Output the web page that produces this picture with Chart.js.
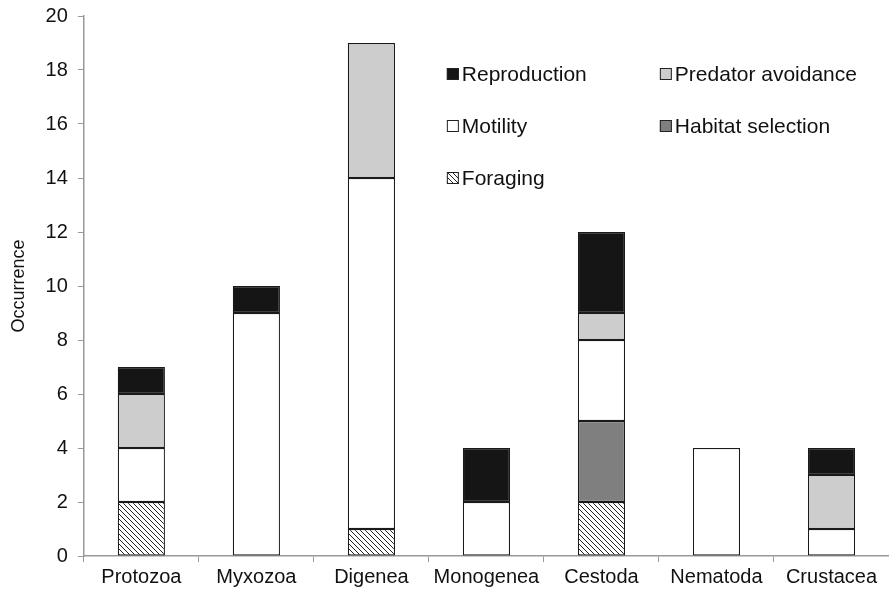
<!DOCTYPE html>
<html>
<head>
<meta charset="utf-8">
<script src="https://cdn.jsdelivr.net/npm/chart.js@4/dist/chart.umd.min.js"></script>
<style>
  html, body { margin: 0; padding: 0; background: #fff; }
  #wrap { width: 889px; height: 593px; }
</style>
</head>
<body>
<div id="wrap"><canvas id="chart" width="889" height="593"></canvas></div>
<script>
// categories and series (stack order bottom -> top)
const groups = ["Protozoa", "Myxozoa", "Digenea", "Monogenea", "Cestoda", "Nematoda", "Crustacea"];
const foraging   = [2, 0, 1, 0, 2, 0, 0];
const habitat    = [0, 0, 0, 0, 3, 0, 0];
const motility   = [2, 9, 13, 2, 3, 4, 1];
const predator   = [2, 0, 5, 0, 1, 0, 2];
const reproduction = [1, 1, 0, 2, 3, 0, 1];
const yTicks = [0, 2, 4, 6, 8, 10, 12, 14, 16, 18, 20];

const FONT = "'Liberation Sans', Arial, Helvetica, sans-serif";

// diagonal hatch for foraging
function hatch() {
    const s = 5;
    const c = document.createElement("canvas");
    c.width = s; c.height = s;
    const g = c.getContext("2d");
    g.fillStyle = "#fff";
    g.fillRect(0, 0, s, s);
    g.strokeStyle = "#222";
    g.lineWidth = 1;
    g.beginPath();
    g.moveTo(-1, -1); g.lineTo(s + 1, s + 1);
    g.moveTo(-1, s - 1); g.lineTo(1, s + 1);
    g.moveTo(s - 1, -1); g.lineTo(s + 1, 1);
    g.stroke();
    return g.createPattern(c, "repeat");
}
const hatchFill = hatch();

function ds(label, data, fill) {
    return {
        label: label,
        data: data,
        backgroundColor: fill,
        borderColor: "#1a1a1a",
        borderWidth: 1.2,
        borderSkipped: false,
        barPercentage: 0.41,
        categoryPercentage: 1
    };
}

// legend drawn inside the plot, two columns
const legendLayout = [
    { label: "Reproduction", col: 0, row: 0 },
    { label: "Predator avoidance", col: 1, row: 0 },
    { label: "Motility", col: 0, row: 1 },
    { label: "Habitat selection", col: 1, row: 1 },
    { label: "Foraging", col: 0, row: 2 }
];

const insideLegend = {
    id: "insideLegend",
    afterDraw(chart) {
        const ctx = chart.ctx;
        const area = chart.chartArea;
        ctx.save();
        ctx.font = "21px " + FONT;
        ctx.textBaseline = "middle";
        legendLayout.forEach(item => {
            const d = chart.data.datasets.find(x => x.label === item.label);
            const x = area.left + 363 + item.col * 213;
            const y = area.top + 58 + item.row * 52;
            ctx.fillStyle = d.backgroundColor;
            ctx.fillRect(x, y - 6, 12, 12);
            ctx.strokeStyle = "#222";
            ctx.lineWidth = 1;
            ctx.strokeRect(x + 0.5, y - 5.5, 11, 11);
            ctx.fillStyle = "#111";
            ctx.fillText(item.label, x + 15, y + 1);
        });
        ctx.restore();
    }
};

new Chart(document.getElementById("chart"), {
    type: "bar",
    data: {
        labels: groups,
        datasets: [
            ds("Foraging", foraging, hatchFill),
            ds("Habitat selection", habitat, "#7f7f7f"),
            ds("Motility", motility, "#ffffff"),
            ds("Predator avoidance", predator, "#cccdcc"),
            ds("Reproduction", reproduction, "#151515")
        ]
    },
    options: {
        responsive: false,
        animation: false,
        layout: { padding: { top: 3, right: 0, left: 8, bottom: 1 } },
        plugins: {
            legend: { display: false },
            tooltip: { enabled: false }
        },
        scales: {
            x: {
                stacked: true,
                offset: true,
                grid: {
                    offset: true,
                    drawOnChartArea: false,
                    drawTicks: true,
                    tickLength: 6,
                    color: "#999"
                },
                border: { color: "#999", width: 1.5 },
                ticks: {
                    color: "#111",
                    font: { family: FONT, size: 20 },
                    padding: 3,
                    maxRotation: 0
                }
            },
            y: {
                stacked: true,
                min: 0,
                max: 20,
                afterBuildTicks: axis => { axis.ticks = yTicks.map(v => ({ value: v })); },
                grid: {
                    drawOnChartArea: false,
                    drawTicks: true,
                    tickLength: 6,
                    color: "#999"
                },
                border: { color: "#999", width: 1.5 },
                ticks: {
                    color: "#111",
                    font: { family: FONT, size: 20, lineHeight: 0.6 },
                    padding: 10
                },
                title: {
                    display: true,
                    text: "Occurrence",
                    color: "#111",
                    font: { family: FONT, size: 18 },
                    padding: { top: 0, bottom: 6 }
                }
            }
        }
    },
    plugins: [insideLegend]
});
</script>
</body>
</html>
